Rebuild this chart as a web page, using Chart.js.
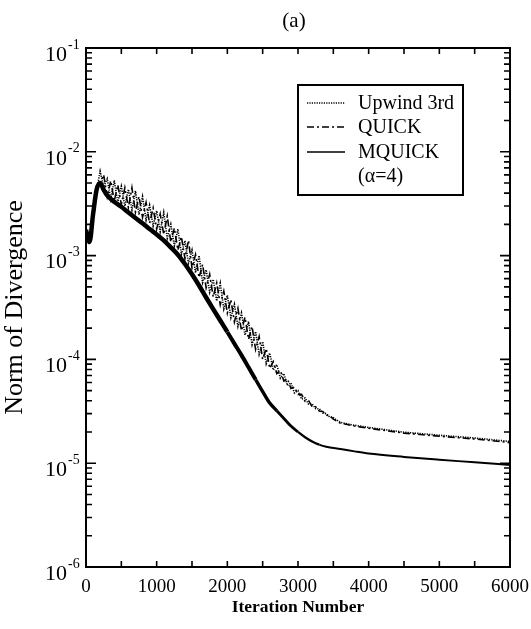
<!DOCTYPE html>
<html>
<head>
<meta charset="utf-8">
<title>Norm of Divergence (a)</title>
<script src="https://cdn.jsdelivr.net/npm/chart.js@4.4.1/dist/chart.umd.min.js"></script>
<style>
    html, body { margin: 0; padding: 0; background: #fff; }
    #graficoContainer { width: 531px; height: 629px; }
</style>
</head>
<body>
<div id="graficoContainer"><canvas id="divergenceChart" width="531" height="629"></canvas></div>
<script>
// valores (iteracao, norma da divergencia)
const iterDense = [0, 50, 100, 150, 200, 250, 300, 350, 400, 450, 500, 550, 600, 650, 700, 750, 800, 850, 900, 950,
    1000, 1050, 1100, 1150, 1200, 1250, 1300, 1350, 1400, 1450, 1500, 1550, 1600, 1650, 1700, 1750, 1800, 1850, 1900, 1950,
    2000, 2050, 2100, 2150, 2200, 2250, 2300, 2350, 2400, 2450, 2500, 2550, 2600, 2650, 2700, 2750, 2800, 2850, 2900, 2950,
    3000, 3050, 3100, 3150, 3200, 3250, 3300, 3350, 3400, 3450, 3500, 3600, 3800, 4000, 4500, 5000, 5500, 6000];

const normUpwind = [1.75e-3, 1.42e-3, 2.7e-3, 4.2e-3, 6.5e-3, 4.6e-3, 5.5e-3, 3.5e-3, 5.3e-3, 3.25e-3,
    4.65e-3, 3.0e-3, 4.35e-3, 2.75e-3, 4.2e-3, 2.48e-3, 3.7e-3, 2.2e-3, 3.05e-3, 1.93e-3,
    2.7e-3, 1.7e-3, 2.6e-3, 1.47e-3, 2.0e-3, 1.24e-3, 1.8e-3, 1.03e-3, 1.39e-3, 8.45e-4,
    1.13e-3, 6.85e-4, 1.0e-3, 5.5e-4, 7.3e-4, 4.43e-4, 5.9e-4, 3.66e-4, 5.4e-4, 3.06e-4,
    4.15e-4, 2.53e-4, 3.4e-4, 2.08e-4, 2.8e-4, 1.71e-4, 2.32e-4, 1.39e-4, 1.85e-4, 1.12e-4,
    1.48e-4, 9.1e-5, 1.15e-4, 7.9e-5, 8.9e-5, 6.6e-5, 7.3e-5, 5.6e-5, 5.95e-5, 4.75e-5,
    5.0e-5, 4.15e-5, 4.25e-5, 3.7e-5, 3.72e-5, 3.35e-5, 3.35e-5, 3.05e-5, 3.0e-5, 2.78e-5,
    2.74e-5, 2.47e-5, 2.32e-5, 2.21e-5, 1.99e-5, 1.86e-5, 1.75e-5, 1.62e-5];

const normQuick = [1.75e-3, 1.48e-3, 2.3e-3, 4.7e-3, 5.0e-3, 6.0e-3, 3.7e-3, 5.25e-3, 3.36e-3, 4.8e-3,
    3.1e-3, 4.5e-3, 2.9e-3, 4.5e-3, 2.62e-3, 3.7e-3, 2.34e-3, 3.25e-3, 2.05e-3, 2.87e-3,
    1.8e-3, 2.52e-3, 1.6e-3, 2.4e-3, 1.35e-3, 1.84e-3, 1.13e-3, 1.52e-3, 9.35e-4, 1.4e-3,
    7.6e-4, 1.02e-3, 6.15e-4, 8.2e-4, 4.9e-4, 6.6e-4, 4.0e-4, 5.45e-4, 3.36e-4, 4.55e-4,
    2.79e-4, 3.77e-4, 2.3e-4, 3.1e-4, 1.89e-4, 2.55e-4, 1.56e-4, 2.07e-4, 1.25e-4, 1.66e-4,
    1.0e-4, 1.27e-4, 8.2e-5, 9.5e-5, 7.3e-5, 7.8e-5, 6.2e-5, 6.5e-5, 5.25e-5, 5.4e-5,
    4.6e-5, 4.6e-5, 3.95e-5, 4.0e-5, 3.5e-5, 3.5e-5, 3.18e-5, 3.15e-5, 2.9e-5, 2.88e-5,
    2.66e-5, 2.43e-5, 2.28e-5, 2.17e-5, 1.95e-5, 1.82e-5, 1.71e-5, 1.58e-5];

const iterMquick = [0, 50, 100, 150, 200, 250, 300, 400, 500, 600, 700, 800, 900, 1000, 1100, 1200, 1300, 1400, 1500,
    1600, 1700, 1800, 1900, 2000, 2100, 2200, 2300, 2400, 2500, 2600, 2700, 2800, 2900, 3000, 3100, 3200, 3300, 3400,
    3600, 3800, 4000, 4500, 5000, 5500, 6000];

const normMquick = [1.77e-3, 1.35e-3, 2.5e-3, 4.3e-3, 5.0e-3, 4.3e-3, 3.8e-3, 3.3e-3, 2.95e-3, 2.6e-3, 2.3e-3, 2.05e-3,
    1.8e-3, 1.6e-3, 1.4e-3, 1.2e-3, 1.02e-3, 8.3e-4, 6.6e-4, 5.15e-4, 3.95e-4, 3.05e-4, 2.37e-4, 1.84e-4, 1.42e-4,
    1.10e-4, 8.4e-5, 6.4e-5, 4.9e-5, 3.8e-5, 3.2e-5, 2.7e-5, 2.28e-5, 2.0e-5, 1.78e-5, 1.62e-5, 1.51e-5, 1.44e-5,
    1.37e-5, 1.30e-5, 1.24e-5, 1.15e-5, 1.08e-5, 1.02e-5, 9.6e-6];

const seriesLabels = ['Upwind 3rd', 'QUICK', 'MQUICK'];
const legendNote = '(\u03b1=4)';
const xTickMarks = [500, 1000, 1500, 2000, 2500, 3000, 3500, 4000, 4500, 5000, 5500];
const yExponents = [-6, -5, -4, -3, -2, -1];

const SERIF = '"Liberation Serif", "Times New Roman", serif';

function pares(xs, ys) {
    return xs.map((x, i) => ({ x: x, y: ys[i] }));
}

// espessura da curva MQUICK: grossa na queda, fina na cauda
function larguraMquick(c) {
    const it = c.p0.parsed.x;
    if (it < 2000) return 4.5;
    if (it < 2400) return 4;
    if (it < 2700) return 3.4;
    if (it < 3000) return 2.8;
    if (it < 3300) return 2.3;
    return 2;
}

// moldura, marcas internas, rotulos 10^n, titulo (a) e legenda em caixa
const molduraPlugin = {
    id: 'moldura',
    afterDraw(chart) {
        const ctx = chart.ctx;
        const a = chart.chartArea;
        const x = chart.scales.x;
        const y = chart.scales.y;
        ctx.save();
        ctx.strokeStyle = '#000';
        ctx.fillStyle = '#000';
        ctx.lineWidth = 2;
        ctx.strokeRect(a.left, a.top, a.right - a.left, a.bottom - a.top);

        ctx.lineWidth = 1.6;
        ctx.beginPath();
        xTickMarks.forEach(v => {
            const px = x.getPixelForValue(v);
            ctx.moveTo(px, a.bottom); ctx.lineTo(px, a.bottom - 6);
            ctx.moveTo(px, a.top); ctx.lineTo(px, a.top + 6);
        });
        yExponents.forEach(e => {
            for (let k = 1; k <= 9; k++) {
                const v = k * Math.pow(10, e);
                if (v > 0.1000001) break;
                const py = y.getPixelForValue(v);
                const len = k === 1 ? 10 : 6;
                ctx.moveTo(a.left, py); ctx.lineTo(a.left + len, py);
                ctx.moveTo(a.right, py); ctx.lineTo(a.right - len, py);
            }
        });
        ctx.stroke();

        ctx.textBaseline = 'middle';
        yExponents.forEach(e => {
            const py = y.getPixelForValue(Math.pow(10, e)) + 7;
            ctx.font = '22px ' + SERIF;
            ctx.textAlign = 'right';
            ctx.fillText('10', 67, py);
            ctx.font = '14px ' + SERIF;
            ctx.textAlign = 'left';
            ctx.fillText(String(e), 68, py - 10);
        });

        ctx.font = '21px ' + SERIF;
        ctx.textAlign = 'center';
        ctx.fillText('(a)', 294, 21);

        // legenda
        ctx.lineWidth = 2;
        ctx.strokeRect(298, 85, 165, 110);
        const linhas = [103, 127, 152];
        chart.data.datasets.forEach((ds, i) => {
            ctx.setLineDash(ds.borderDash || []);
            ctx.lineWidth = i === 2 ? 1.5 : 1.3;
            ctx.beginPath();
            ctx.moveTo(307, linhas[i]);
            ctx.lineTo(345, linhas[i]);
            ctx.stroke();
            ctx.setLineDash([]);
            ctx.font = '20px ' + SERIF;
            ctx.textAlign = 'left';
            ctx.fillText(ds.label, 358, linhas[i] + 1);
        });
        ctx.fillText(legendNote, 358, 177);
        ctx.restore();
    }
};

new Chart(document.getElementById('divergenceChart'), {
    type: 'line',
    data: {
        datasets: [{
            label: seriesLabels[0],
            data: pares(iterDense, normUpwind),
            borderColor: '#000',
            borderWidth: 1.6,
            borderDash: [1.2, 1.2],
            pointRadius: 0,
            tension: 0
        }, {
            label: seriesLabels[1],
            data: pares(iterDense, normQuick),
            borderColor: '#000',
            borderWidth: 1.6,
            borderDash: [7, 3, 2, 3],
            pointRadius: 0,
            tension: 0
        }, {
            label: seriesLabels[2],
            data: pares(iterMquick, normMquick),
            borderColor: '#000',
            borderWidth: 2,
            borderJoinStyle: 'round',
            cubicInterpolationMode: 'monotone',
            segment: { borderWidth: larguraMquick },
            pointRadius: 0
        }]
    },
    options: {
        responsive: false,
        animation: false,
        layout: { padding: { top: 48, right: 21, left: 0, bottom: 0 } },
        plugins: {
            legend: { display: false },
            tooltip: { enabled: false }
        },
        scales: {
            x: {
                type: 'linear',
                min: 0,
                max: 6000,
                grid: { display: false },
                border: { display: false },
                ticks: {
                    stepSize: 1000,
                    color: '#000',
                    padding: 1,
                    maxRotation: 0,
                    font: { family: SERIF, size: 19 },
                    callback: v => String(v)
                },
                title: {
                    display: true,
                    text: 'Iteration Number',
                    color: '#000',
                    font: { family: SERIF, size: 17.5, weight: 'bold' },
                    padding: { top: 0, bottom: 11 }
                },
                afterFit: s => { s.height = 62; }
            },
            y: {
                type: 'logarithmic',
                min: 1e-6,
                max: 1e-1,
                grid: { display: false },
                border: { display: false },
                ticks: { display: false },
                title: {
                    display: true,
                    text: 'Norm of Divergence',
                    color: '#000',
                    font: { family: SERIF, size: 26 },
                    padding: { top: 0, bottom: 0 }
                },
                afterFit: s => { s.width = 86; }
            }
        }
    },
    plugins: [molduraPlugin]
});
</script>
</body>
</html>
